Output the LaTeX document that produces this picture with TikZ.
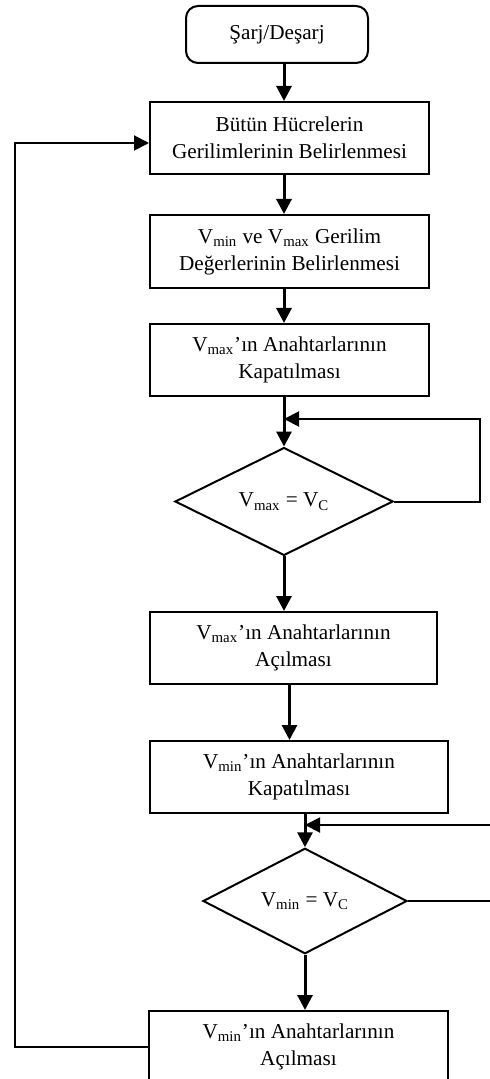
\documentclass[tikz,border=0pt]{standalone}
\usepackage{fontspec}
\setmainfont{Liberation Serif}
\usetikzlibrary{arrows.meta, shapes.geometric, calc}
\tikzset{every node/.style={font=\fontsize{10.6}{13.5}\selectfont}}

\begin{document}
\begin{tikzpicture}[x=0.5pt, y=-0.5pt, >={Triangle[length=7.5pt, width=7.5pt]}]
  % Fixed bounding box (size of the original page)
  \path[use as bounding box] (0,0) rectangle (489,1079);

  % Styles.
  \tikzset{
    startbox/.style={draw, line width=1pt, rounded corners=6pt,
      minimum width=91pt, minimum height=28.5pt},
    procbox/.style={draw, line width=1pt, align=center, inner sep=0pt,
      minimum height=36pt},
    decision/.style={draw, line width=1pt, diamond, inner sep=0pt},
    flow/.style={->, line width=1.5pt},
    loopline/.style={->, line width=1pt}
  }

  % Blocks.
  \node[startbox] (start) at (277,34.5) {Şarj/Deşarj};
  \node[procbox, minimum width=139.5pt] (cells) at (289.5,138)
    {Bütün Hücrelerin\\Gerilimlerinin Belirlenmesi};
  \node[procbox, minimum width=139.5pt, minimum height=36.5pt] (minmax) at (289.5,251.5)
    {V\textsubscript{min} ve V\textsubscript{max} Gerilim\\Değerlerinin Belirlenmesi};
  \node[procbox, minimum width=139.5pt] (maxon) at (289.5,360)
    {V\textsubscript{max}’ın Anahtarlarının\\Kapatılması};
  \node[decision, minimum width=109pt, minimum height=50.5pt] (maxeq) at (284,501.5)
    {V\textsubscript{max} = V\textsubscript{C}};
  \node[procbox, minimum width=143.5pt] (maxoff) at (293.5,648)
    {V\textsubscript{max}’ın Anahtarlarının\\Açılması};
  \node[procbox, minimum width=149pt] (minon) at (299,777)
    {V\textsubscript{min}’ın Anahtarlarının\\Kapatılması};
  \node[decision, minimum width=102pt, minimum height=44.5pt] (mineq) at (305,901)
    {V\textsubscript{min} = V\textsubscript{C}};
  \node[procbox, minimum width=149.5pt] (minoff) at (298.5,1047)
    {V\textsubscript{min}’ın Anahtarlarının\\Açılması};

  % Main flow.
  \draw[flow] (start.south -| maxeq) -- (cells.north -| maxeq);
  \draw[flow] (cells.south -| maxeq) -- (minmax.north -| maxeq);
  \draw[flow] (minmax.south -| maxeq) -- (maxon.north -| maxeq);
  \draw[flow] (maxon.south -| maxeq) -- (maxeq.north);
  \draw[flow] (maxeq.south) -- (maxoff.north -| maxeq);
  \draw[flow] ([xshift=-2pt]maxoff.south) -- ([xshift=-2pt]minon.north -| maxoff.south);
  \draw[flow] (minon.south -| mineq) -- (mineq.north);
  \draw[flow] (mineq.south) -- (minoff.north -| mineq);

  % Return points.
  \coordinate (ret1) at (284,419);
  \coordinate (ret2) at (305,825);
  \coordinate (back) at (15,143);

  % Loops.
  \draw[loopline] (maxeq.east) -- ++(86,0) |- (ret1);
  \draw[loopline] (mineq.east) -- ++(92,0) |- (ret2);
  \draw[loopline] (minoff.west) -| (back) -- (back -| cells.west);
\end{tikzpicture}
\end{document}
